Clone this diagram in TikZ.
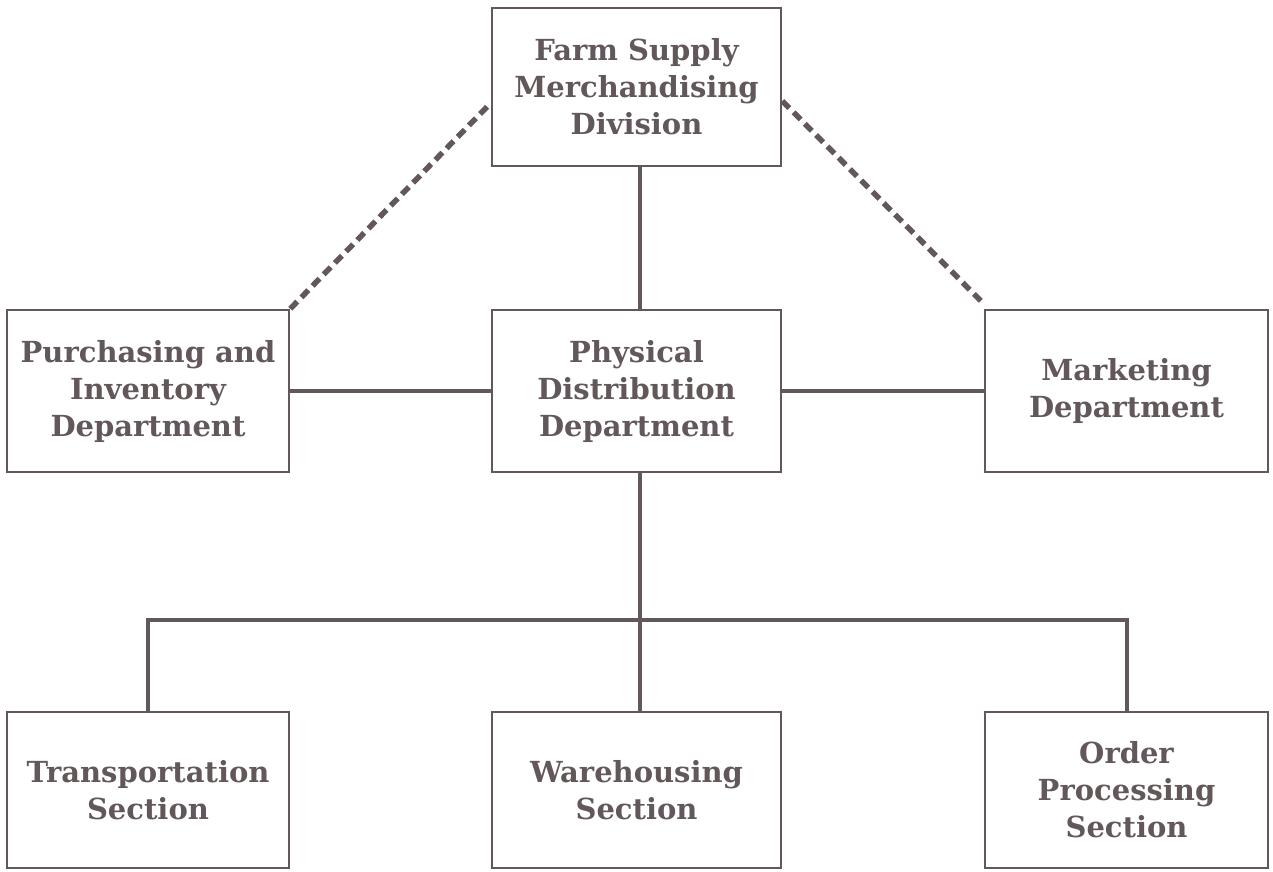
\documentclass[tikz,border=0pt]{standalone}
\usepackage{fontspec}
\setmainfont{DejaVu Serif}
\definecolor{ink}{HTML}{625859}
\begin{document}
\begin{tikzpicture}[x=1pt,y=-1pt,
  box/.style={draw=ink,line width=2.5pt,minimum width=289pt,minimum height=158pt,
    text=ink,font=\bfseries\fontsize{29}{37}\selectfont,align=center,inner sep=0pt},
  link/.style={draw=ink,line width=4pt},
  dash link/.style={draw=ink,line width=5.5pt,dash pattern=on 10pt off 6pt}]
\useasboundingbox (0,0) rectangle (1273,871);
\fill[white] (0,0) rectangle (1273,871);
\node[box,minimum width=289pt,minimum height=158pt] (top) at (636.5,87) {Farm Supply\\Merchandising\\Division};
\node[box,minimum width=282pt,minimum height=162pt] (pur) at (148,391) {Purchasing and\\Inventory\\Department};
\node[box,minimum width=289pt,minimum height=162pt] (phy) at (636.5,391) {Physical\\Distribution\\Department};
\node[box,minimum width=283pt,minimum height=162pt] (mkt) at (1126.5,391) {Marketing\\Department};
\node[box,minimum width=282pt,minimum height=156pt] (tra) at (148,790) {Transportation\\Section};
\node[box,minimum width=289pt,minimum height=156pt] (war) at (636.5,790) {Warehousing\\Section};
\node[box,minimum width=283pt,minimum height=156pt] (ord) at (1126.5,790) {Order\\Processing\\Section};
\coordinate (bus) at (640,620);
\draw[link] (top.south -| 640,0) -- (phy.north -| 640,0);
\draw[link] (pur.east) -- (phy.west);
\draw[link] (phy.east) -- (mkt.west);
\draw[link] (phy.south -| 640,0) -- (bus);
\draw[link] (tra.north) -- (tra.north |- bus) -- (ord.north |- bus) -- (ord.north);
\draw[link] (bus) -- (war.north -| 640,0);
\draw[dash link] (pur.north east) -- ([yshift=-16pt]top.west);
\draw[dash link] ([yshift=-14pt]top.east) -- ([xshift=-3pt,yshift=8pt]mkt.north west);
\end{tikzpicture}
\end{document}
